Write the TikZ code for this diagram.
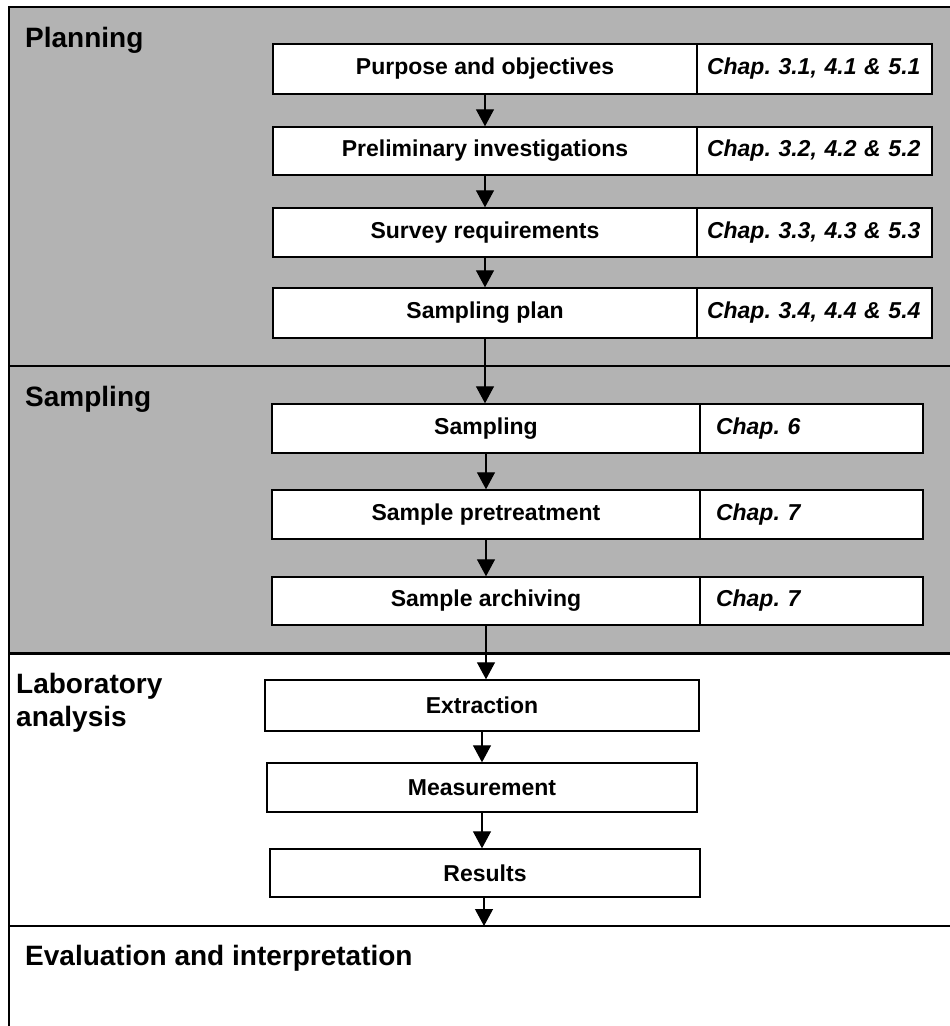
\documentclass[tikz,border=0pt]{standalone}
\usepackage{fontspec}
\setmainfont{Liberation Sans}
\usetikzlibrary{arrows.meta}
\frenchspacing
\definecolor{phasegray}{RGB}{179,179,179}
\tikzset{
  x=1pt, y=-1pt,
  stepbox/.style={draw=black, line width=1.4pt, fill=white, inner sep=0pt,
    font=\fontsize{23}{27}\selectfont\bfseries},
  chapbox/.style={draw=black, line width=1.4pt, fill=white, inner ysep=0pt,
    align=left, font=\fontsize{23}{27}\selectfont\bfseries\itshape},
  phase/.style={anchor=base west, inner sep=0pt, align=left,
    font=\fontsize{28}{33}\selectfont\bfseries},
  flow/.style={line width=1.2pt, -{Triangle[length=17pt,width=18pt]}},
  divider/.style={line width=2pt}
}
\begin{document}
\begin{tikzpicture}
\useasboundingbox (0,0) rectangle (950,1026);
% phase bands
\fill[phasegray] (9,7) rectangle (960,653);
\draw[line width=2pt] (9,1040) -- (9,7) -- (960,7);
\draw[divider] (9,366) -- (960,366);
\draw[line width=3pt] (9,653) -- (960,653);
\draw[divider] (9,926) -- (960,926);

% phase titles
\node[phase] (tplan) at (25,47) {Planning};
\node[phase] (tsamp) at (25,406) {Sampling};
\node[phase] (tlab) at (16,726) {Laboratory\\analysis};
\node[phase] (teval) at (25,965) {Evaluation and interpretation};

% planning steps
\node[stepbox, minimum width=424pt, minimum height=50pt] (p1) at (485,69) {Purpose and objectives};
\node[chapbox, text width=215pt, inner xsep=10pt, minimum height=50pt] (c1) at (814.5,69) {Chap. 3.1, 4.1 \& 5.1};
\node[stepbox, minimum width=424pt, minimum height=48pt] (p2) at (485,151) {Preliminary investigations};
\node[chapbox, text width=215pt, inner xsep=10pt, minimum height=48pt] (c2) at (814.5,151) {Chap. 3.2, 4.2 \& 5.2};
\node[stepbox, minimum width=424pt, minimum height=49pt] (p3) at (485,232.5) {Survey requirements};
\node[chapbox, text width=215pt, inner xsep=10pt, minimum height=49pt] (c3) at (814.5,232.5) {Chap. 3.3, 4.3 \& 5.3};
\node[stepbox, minimum width=424pt, minimum height=50pt] (p4) at (485,313) {Sampling plan};
\node[chapbox, text width=215pt, inner xsep=10pt, minimum height=50pt] (c4) at (814.5,313) {Chap. 3.4, 4.4 \& 5.4};

% sampling steps
\node[stepbox, minimum width=428pt, minimum height=49pt] (s1) at (486,428.5) {Sampling};
\node[chapbox, text width=191pt, inner xsep=16pt, minimum height=49pt] (d1) at (811.5,428.5) {Chap. 6};
\node[stepbox, minimum width=428pt, minimum height=49pt] (s2) at (486,514.5) {Sample pretreatment};
\node[chapbox, text width=191pt, inner xsep=16pt, minimum height=49pt] (d2) at (811.5,514.5) {Chap. 7};
\node[stepbox, minimum width=428pt, minimum height=48pt] (s3) at (486,601) {Sample archiving};
\node[chapbox, text width=191pt, inner xsep=16pt, minimum height=48pt] (d3) at (811.5,601) {Chap. 7};

% laboratory steps
\node[stepbox, minimum width=434pt, minimum height=51pt] (l1) at (482,705.5) {Extraction};
\node[stepbox, minimum width=430pt, minimum height=49pt] (l2) at (482,787.5) {Measurement};
\node[stepbox, minimum width=430pt, minimum height=48pt] (l3) at (485,873) {Results};

\coordinate (evaltop) at (484,926);

% flow
\draw[flow] (p1.south) -- (p2.north);
\draw[flow] (p2.south) -- (p3.north);
\draw[flow] (p3.south) -- (p4.north);
\draw[flow] (p4.south) -- (p4.south |- s1.north);
\draw[flow] (s1.south) -- (s2.north);
\draw[flow] (s2.south) -- (s3.north);
\draw[flow] (s3.south) -- (s3.south |- l1.north);
\draw[flow] (l1.south) -- (l1.south |- l2.north);
\draw[flow] (l2.south) -- (l2.south |- l3.north);
\draw[flow] (l3.south -| evaltop) -- (evaltop);
\end{tikzpicture}
\end{document}
